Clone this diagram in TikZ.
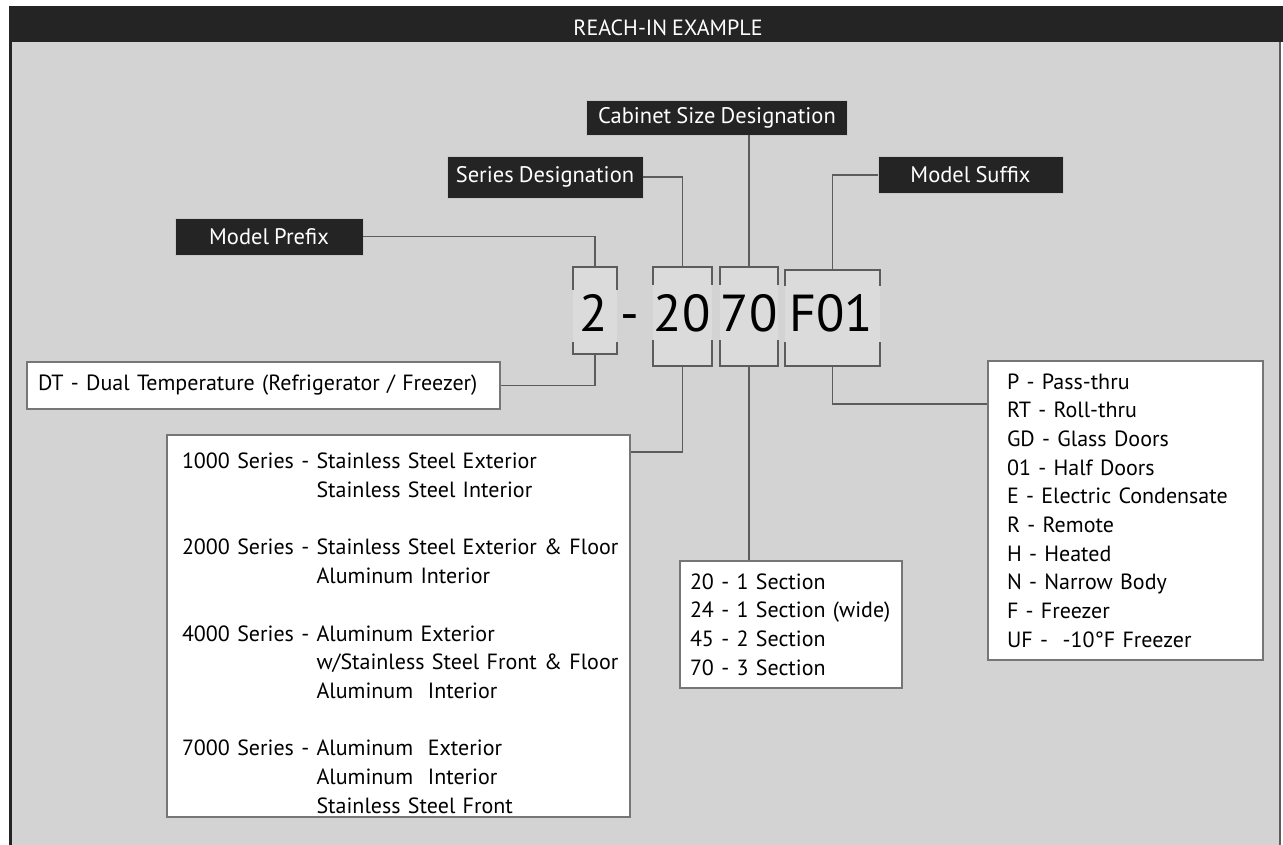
\documentclass[tikz,border=0pt]{standalone}
\usepackage{fontspec}
\setmainfont{PT Sans}[WordSpace=0.85]
\usepackage{xcolor}
\usepackage{tikz}
\usetikzlibrary{positioning}

\definecolor{panelgray}{HTML}{D3D3D3}
\definecolor{slotgray}{HTML}{DBDBDB}
\definecolor{headblack}{HTML}{242424}
\definecolor{boxgray}{HTML}{767676}
\definecolor{linegray}{HTML}{5C5C5C}

\begin{document}
\begin{tikzpicture}[
    x=1pt, y=-1pt,
    tagbox/.style={rectangle, fill=headblack, draw=boxgray!40, text=white, inner sep=0pt, minimum height=37pt, font=\fontsize{22.5}{25}\selectfont},
    listbox/.style={rectangle, draw=boxgray, line width=1.6pt, fill=white, align=left, font=\fontsize{22}{28.7}\selectfont},
    slotbox/.style={rectangle, fill=slotgray, inner sep=0pt},
    digits/.style={anchor=base, inner sep=0pt, font=\fontsize{52}{60}\selectfont},
    bracket/.style={draw=linegray, line width=1.6pt},
    conn/.style={draw=linegray, line width=1.6pt}
]
    \useasboundingbox (0,0) rectangle (1283,845);
    % Panel and header
    \fill[white] (0,0) rectangle (1283,845);
    \fill[panelgray] (10,42) rectangle (1280,845);
    \draw[headblack, line width=3pt] (10.5,42) -- (10.5,845);
    \draw[linegray, line width=2pt] (1280,42) -- (1280,845);
    \fill[headblack] (9,6) rectangle (1283,42);
    \node[text=white, font=\fontsize{22}{24}\selectfont] (title) at (668,28) {REACH-IN EXAMPLE};

    % Labels
    \node[tagbox, minimum width=261pt, minimum height=35pt] (cabinet) at (717,117.5) {Cabinet Size Designation};
    \node[tagbox, minimum width=196pt, minimum height=42pt] (series) at (545,177) {Series Designation};
    \node[tagbox, minimum width=185pt] (suffix) at (970.5,175) {Model Suffix};
    \node[tagbox, minimum width=188pt] (prefix) at (269,236.5) {Model Prefix};

    % Model number
    \node[slotbox, minimum width=44pt, minimum height=87pt] (s2) at (595,310.5) {};
    \node[slotbox, minimum width=59pt, minimum height=99pt] (s20) at (682.5,316.5) {};
    \node[slotbox, minimum width=58pt, minimum height=99pt] (s70) at (749,316.5) {};
    \node[slotbox, minimum width=95pt, minimum height=96pt] (sF) at (832.5,318) {};
    \foreach \s/\t/\b in {s2/23/12, s20/18/26, s70/18/26, sF/16/24} {
        \draw[bracket] ([yshift=-\t pt]\s.north west) -- (\s.north west) -- (\s.north east) -- ([yshift=-\t pt]\s.north east);
        \draw[bracket] ([yshift=\b pt]\s.south west) -- (\s.south west) -- (\s.south east) -- ([yshift=\b pt]\s.south east);
    }
    \node[digits] (n2) at (594,331) {2};
    \node[digits] (dash) at (630,331) {-};
    \node[digits] (n20) at (682,331) {20};
    \node[digits] (n70) at (749,331) {70};
    \node[digits] (nF) at (831,331) {F01};

    % Option lists
    \node[listbox, text width=451pt, inner xsep=11pt, minimum height=47pt] (dt) at (263.5,385.5) {DT - Dual Temperature (Refrigerator / Freezer)};
    \node[listbox, text width=433pt, inner xsep=15pt, text height=201pt, text depth=172pt, minimum height=382pt] (serieslist) at (398.5,626) {%
        \begin{tabular}{@{}l@{~}l@{}}
        1000 Series - & Stainless Steel Exterior\\
         & Stainless Steel Interior\\
         & \\
        2000 Series - & Stainless Steel Exterior \& Floor\\
         & Aluminum Interior\\
         & \\
        4000 Series - & Aluminum Exterior\\
         & w/Stainless Steel Front \& Floor\\
         & Aluminum\ \ Interior\\
         & \\
        7000 Series - & Aluminum\ \ Exterior\\
         & Aluminum\ \ Interior\\
         & Stainless Steel Front
        \end{tabular}};
    \node[listbox, text width=202pt, inner xsep=10pt, minimum height=127pt] (sections) at (791,624.5) {20 - 1 Section\\24 - 1 Section (wide)\\45 - 2 Section\\70 - 3 Section};
    \node[listbox, text width=237pt, inner xsep=19pt, minimum height=299pt] (options) at (1125.5,510.5) {P - Pass-thru\\RT - Roll-thru\\GD - Glass Doors\\01 - Half Doors\\E - Electric Condensate\\R - Remote\\H - Heated\\N - Narrow Body\\F - Freezer\\UF -\ \ -10°F Freezer};

    % Connectors
    \draw[conn] (prefix.east) -| (s2.north);
    \draw[conn] (series.east) -| (s20.north);
    \draw[conn] (cabinet.south -| s70.north) -- (s70.north);
    \draw[conn] (suffix.west) -| (sF.north);
    \draw[conn] (s2.south) |- (dt.east);
    \draw[conn] (s20.south) |- ([yshift=-18pt]serieslist.north east);
    \draw[conn] (s70.south) -- (s70.south |- sections.north);
    \draw[conn] (sF.south) |- ([yshift=-44pt]options.north west);

\end{tikzpicture}
\end{document}
